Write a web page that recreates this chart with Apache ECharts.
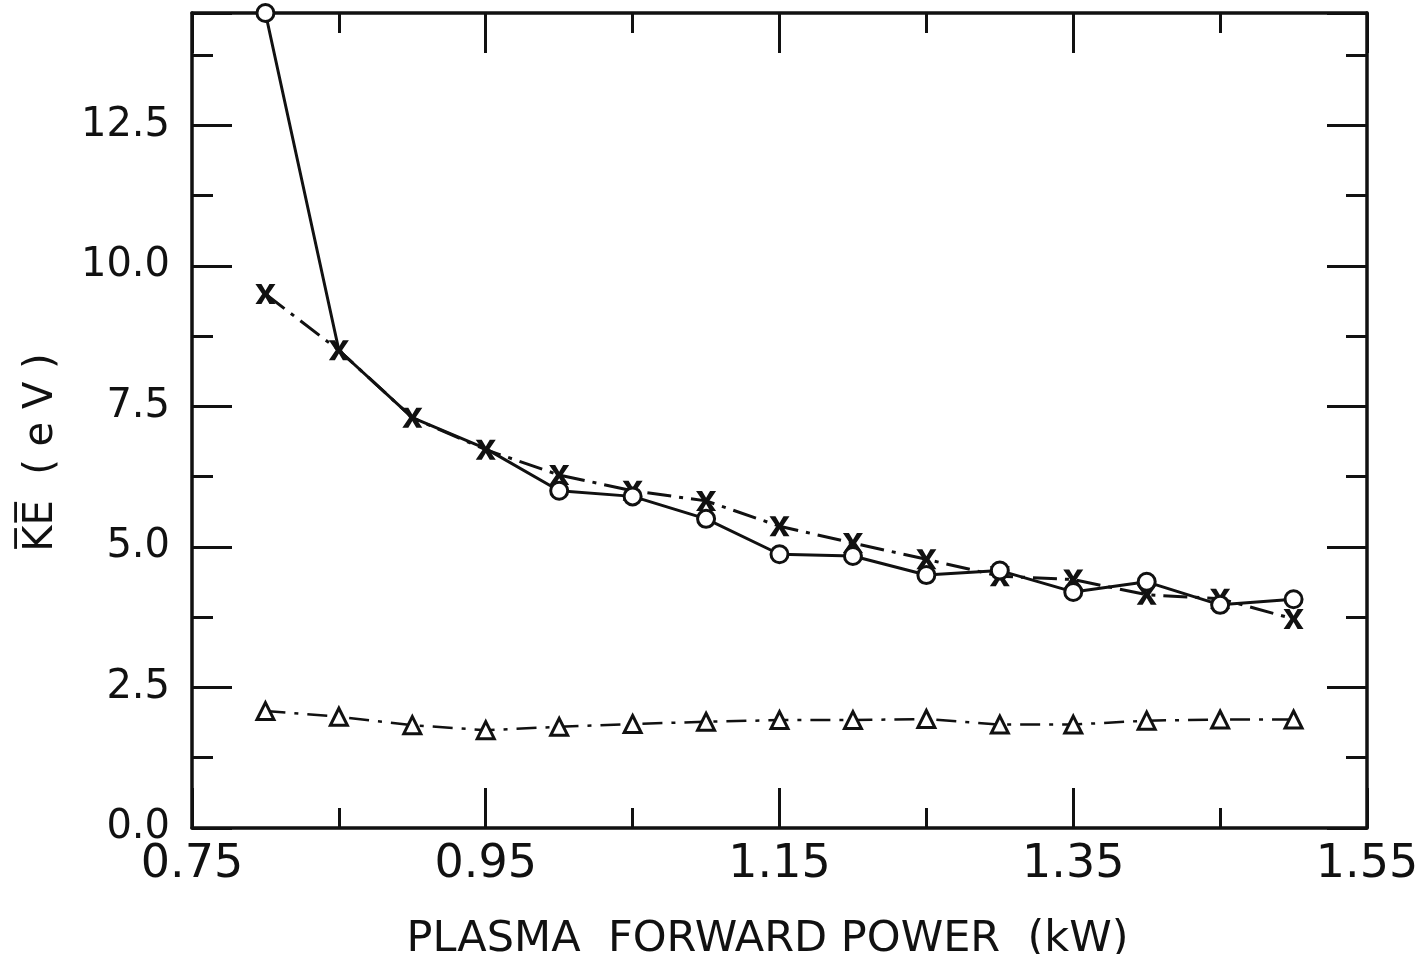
<!DOCTYPE html>
<html>
<head>
<meta charset="UTF-8">
<title>KE vs plasma forward power</title>
<script src="https://cdn.jsdelivr.net/npm/echarts@6/dist/echarts.min.js"></script>
<style>
  html, body { margin: 0; padding: 0; background: #fff; }
  #chart { width: 1422px; height: 954px; }
</style>
</head>
<body>
<div id="chart"></div>
<script>
// plasma forward power (kW)
var power = [0.80, 0.85, 0.90, 0.95, 1.00, 1.05, 1.10, 1.15, 1.20, 1.25, 1.30, 1.35, 1.40, 1.45, 1.50];
// mean KE (eV), three data sets
var keCircle   = [14.5, 8.5, 7.3, 6.75, 6.0, 5.9, 5.5, 4.87, 4.84, 4.5, 4.58, 4.2, 4.38, 3.97, 4.07];
var keCross    = [9.5, 8.5, 7.3, 6.73, 6.28, 6.0, 5.82, 5.37, 5.07, 4.78, 4.48, 4.42, 4.15, 4.08, 3.72];
var keTriangle = [2.08, 1.98, 1.83, 1.74, 1.8, 1.85, 1.89, 1.92, 1.92, 1.94, 1.84, 1.84, 1.91, 1.93, 1.93];
// axis labels
var xTicks = ['0.75', '0.95', '1.15', '1.35', '1.55'];
var yTicks = ['0.0', '2.5', '5.0', '7.5', '10.0', '12.5'];

function pairs(ys) {
    return power.map(function (x, i) { return [x, ys[i]]; });
}

var font = 'DejaVu Sans';
var black = '#111';
var crossPath = 'path://M0,0L3,0L5,3.4L7,0L10,0L6.6,5L10,10L7,10L5,6.6L3,10L0,10L3.4,5Z';

var myChart = echarts.init(document.getElementById('chart'));

function yAxis(pos, interval, len, labels, line) {
    return {
        type: 'value', position: pos, min: 0, max: 14.5, interval: interval,
        axisLine: { show: line, onZero: false, lineStyle: { color: black, width: 3.5 } },
        axisTick: { show: true, inside: true, length: len, lineStyle: { color: black, width: 3 } },
        axisLabel: {
            show: labels, margin: 22, color: black, fontFamily: font, fontSize: 40,
            formatter: function (v) {
                var s = v.toFixed(1);
                return yTicks.indexOf(s) >= 0 ? s : '';
            }
        },
        splitLine: { show: false }
    };
}

function xAxis(pos, labels) {
    return {
        type: 'value', position: pos, min: 0.75, max: 1.55, interval: 0.2,
        axisLine: { show: true, onZero: false, lineStyle: { color: black, width: 3.5 } },
        axisTick: { show: true, inside: true, length: 40, lineStyle: { color: black, width: 3 } },
        minorTick: { show: true, splitNumber: 2, length: 20, lineStyle: { color: black, width: 3 } },
        axisLabel: {
            show: labels, margin: 14, color: black, fontFamily: font, fontSize: 46,
            formatter: function (v) {
                var s = v.toFixed(2);
                return xTicks.indexOf(s) >= 0 ? s : '';
            }
        },
        splitLine: { show: false },
        name: labels ? 'PLASMA  FORWARD POWER  (kW)' : '',
        nameLocation: 'middle',
        nameGap: 90,
        nameTextStyle: { color: black, fontFamily: font, fontSize: 43, padding: [0, 24, 0, 0] }
    };
}

var yLeft = yAxis('left', 2.5, 40, true, true);
yLeft.name = 'K\u0305E\u0305  ( e V )';
yLeft.nameLocation = 'middle';
yLeft.nameGap = 130;
yLeft.nameTextStyle = { color: black, fontFamily: font, fontSize: 40, padding: [0, 64, 0, 0] };

option = {
    backgroundColor: '#fff',
    animation: false,
    grid: { left: 192, right: 55, top: 13, bottom: 126, containLabel: false, outerBoundsMode: 'none' },
    xAxis: [xAxis('bottom', true), xAxis('top', false)],
    yAxis: [
        yLeft,
        yAxis('left', 1.25, 21, false, false),
        yAxis('right', 2.5, 40, false, true),
        yAxis('right', 1.25, 21, false, false)
    ],
    series: [
        {
            name: 'triangle', type: 'line', data: pairs(keTriangle),
            symbol: 'triangle', symbolSize: 17,
            itemStyle: { color: '#fff', borderColor: black, borderWidth: 3 },
            lineStyle: { color: black, width: 2.5, type: [20, 9, 4, 9] }
        },
        {
            name: 'cross', type: 'line', data: pairs(keCross),
            symbol: crossPath, symbolSize: 20,
            itemStyle: { color: black },
            lineStyle: { color: black, width: 3, type: [24, 8, 4, 8] }
        },
        {
            name: 'circle', type: 'line', data: pairs(keCircle),
            symbol: function (v, p) {
                return (p.dataIndex >= 1 && p.dataIndex <= 3) ? 'none' : 'circle';
            },
            symbolSize: 17,
            itemStyle: { color: '#fff', borderColor: black, borderWidth: 3 },
            lineStyle: { color: black, width: 3 }
        }
    ]
};

myChart.setOption(option);
</script>
</body>
</html>
